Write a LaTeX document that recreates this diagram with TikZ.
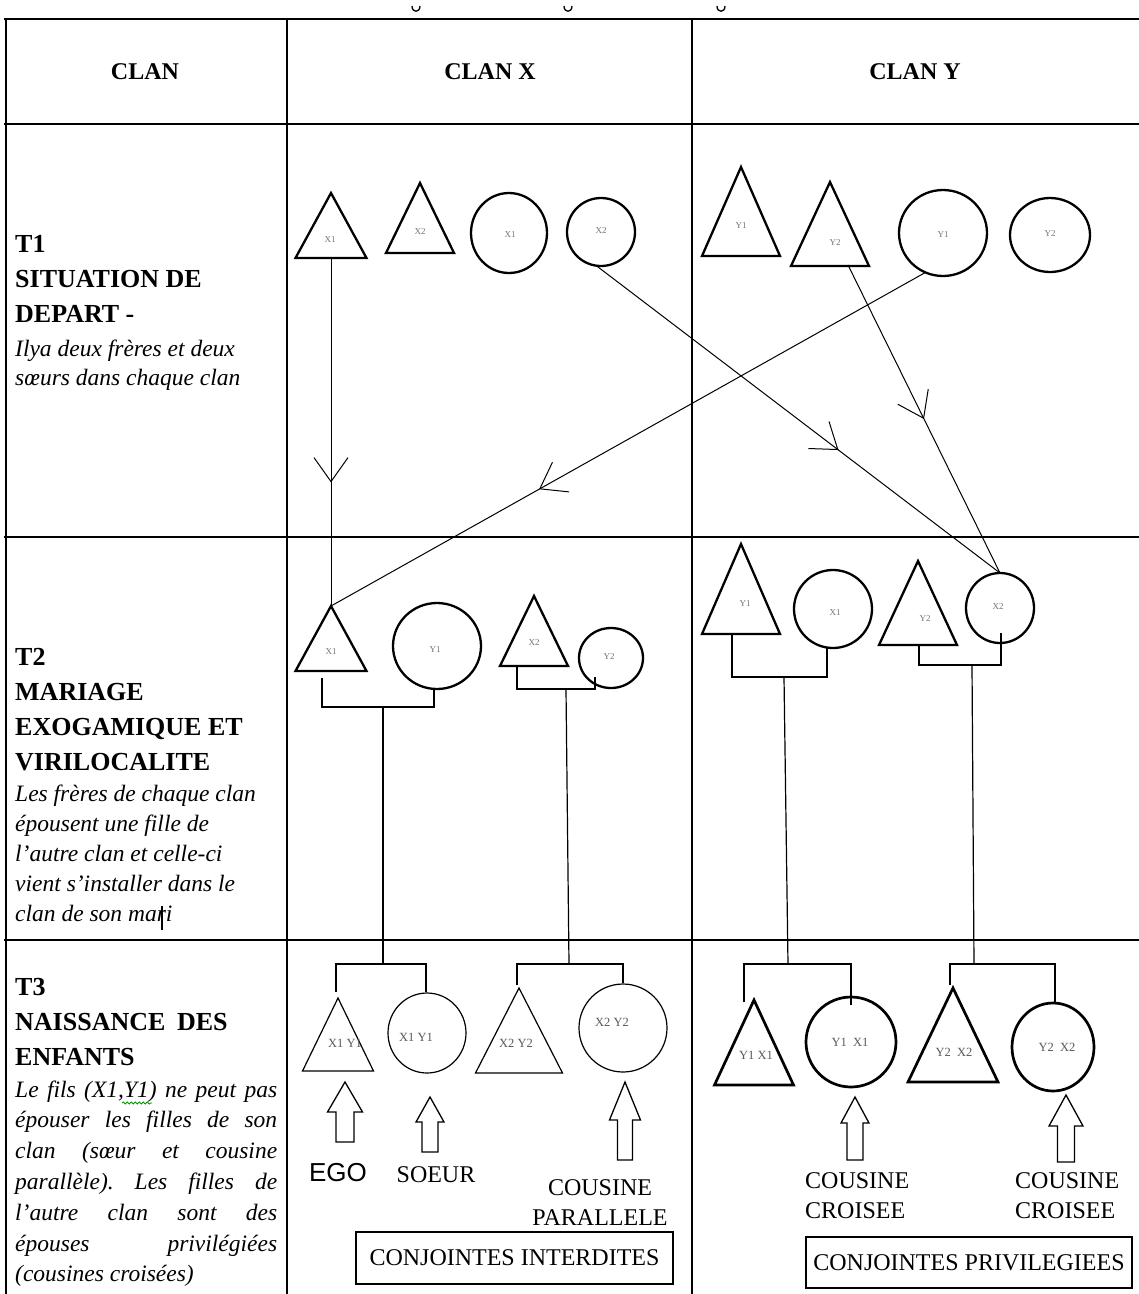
\documentclass[tikz,border=0pt]{standalone}
\usepackage{fontspec}
\setmainfont{Liberation Serif}
\newfontfamily\egofont{Liberation Sans}
\usetikzlibrary{shapes.geometric,arrows.meta,decorations.markings,decorations.pathmorphing}

\tikzset{
  tableline/.style={line width=1.5pt},
  heavy/.style={line width=2.3pt, line join=miter},
  heavier/.style={line width=2.7pt, line join=miter},
  light/.style={line width=1.2pt, line join=miter},
  ring/.style={draw, ellipse, inner sep=0pt, outer sep=0pt},
  smalltag/.style={font=\fontsize{9}{9}\selectfont, text=black!55, inner sep=0pt},
  bigtag/.style={font=\fontsize{12.5}{12.5}\selectfont, text=black!65, inner sep=0pt},
  kintag/.style={smalltag},
  kinline/.style={line width=1pt},
  marriage/.style={line width=1.2pt},
  blockarrow/.style={line width=1.3pt, line join=miter},
  midbarb/.style={postaction={decorate}, decoration={markings,
      mark=at position #1 with {\arrow{Straight Barb[length=24pt,width=34pt,line width=1pt]}}}},
  colhead/.style={font=\fontsize{24}{24}\selectfont\bfseries, inner sep=0pt},
  rowhead/.style={anchor=base west, inner sep=0pt, font=\fontsize{26}{26}\selectfont\bfseries},
  rownote/.style={anchor=base west, inner sep=0pt, font=\fontsize{23.5}{24}\selectfont\itshape},
  caption/.style={font=\fontsize{24}{30}\selectfont, inner sep=0pt},
  framed/.style={draw, line width=1.4pt},
}

% triangle (man): name, apex x, apex y, base y, half base, outline style, label x, label y, label
\newcommand\kintri[9]{%
  \draw[#6] (#2,#3) coordinate (#1-t) -- (#2+#5,#4) -- (#2-#5,#4) -- cycle;
  \coordinate (#1-b) at (#2,#4);
  \node[kintag] (#1) at (#7,#8) {#9};
}
% circle (woman): name, centre x, centre y, x radius, y radius, outline style, label x, label y, label
\newcommand\kinring[9]{%
  \node[ring, #6, minimum width=2*#4, minimum height=2*#5] (#1) at (#2,#3) {};
  \node[kintag] (#1-lab) at (#7,#8) {#9};
}
% hollow upward block arrow: tip x, tip y, head base y, bottom y, head half width, shaft half width
\newcommand\blockup[6]{%
  \draw[blockarrow] (#1,#2) -- (#1+#5,#3) -- (#1+#6,#3) -- (#1+#6,#4)
    -- (#1-#6,#4) -- (#1-#6,#3) -- (#1-#5,#3) -- cycle;
}
% justified line of the left column
\newcommand\justline[1]{\hbox to 262pt{\frenchspacing\spaceskip=.25em plus 1fil\relax #1}}

\begin{document}
\begin{tikzpicture}[x=1pt,y=-1pt]
\useasboundingbox (0,0) rectangle (1139,1294);
\fill[white] (0,0) rectangle (1139,1294);

% descenders of the title line above the table
\foreach \gx in {412,564,717}
  \draw[line width=1.3pt] (\gx,6) .. controls (\gx,13) and (\gx+8,13) .. (\gx+8,6);

% table rules
\draw[tableline] (4,19) -- (1139,19);
\draw[tableline] (4,124) -- (1139,124);
\draw[tableline] (4,537) -- (1139,537);
\draw[tableline] (4,940) -- (1139,940);
\draw[tableline] (6,19) -- (6,1294);
\draw[tableline] (287,19) -- (287,1294);
\draw[tableline] (692,19) -- (692,1294);

% column headings
\node[colhead] (h0) at (145,72) {CLAN};
\node[colhead] (h1) at (490,72) {CLAN X};
\node[colhead] (h2) at (915,72) {CLAN Y};

% row T1 description
\node[rowhead] (r1a) at (15,252) {T1};
\node[rowhead] (r1b) at (15,287) {SITUATION DE};
\node[rowhead] (r1c) at (15,322) {DEPART -};
\node[rownote] (r1d) at (15,356) {Ilya deux frères et deux};
\node[rownote] (r1e) at (15,385) {sœurs dans chaque clan};

% row T2 description
\node[rowhead] (r2a) at (15,665) {T2};
\node[rowhead] (r2b) at (15,700) {MARIAGE};
\node[rowhead] (r2c) at (15,735) {EXOGAMIQUE ET};
\node[rowhead] (r2d) at (15,770) {VIRILOCALITE};
\node[rownote] (r2e) at (15,801) {Les frères de chaque clan};
\node[rownote] (r2f) at (15,831) {épousent une fille de};
\node[rownote] (r2g) at (15,861) {l’autre clan et celle-ci};
\node[rownote] (r2h) at (15,891) {vient s’installer dans le};
\node[rownote] (r2i) at (15,921) {clan de son mari};
\draw[line width=2.6pt] (162,906) -- (162,930);

% row T3 description
\node[rowhead] (r3a) at (15,995) {T3};
\node[rowhead] (r3b) at (15,1030) {NAISSANCE\hspace{.45em}DES};
\node[rowhead] (r3c) at (15,1065) {ENFANTS};
\node[rownote] (r3d) at (15,1097) {\justline{Le fils (X1,Y1) ne peut pas}};
\node[rownote] (r3e) at (15,1127) {\justline{épouser les filles de son}};
\node[rownote] (r3f) at (15,1158) {\justline{clan (sœur et cousine}};
\node[rownote] (r3g) at (15,1189) {\justline{parallèle). Les filles de}};
\node[rownote] (r3h) at (15,1220) {\justline{l’autre clan sont des}};
\node[rownote] (r3i) at (15,1251) {\justline{épouses privilégiées}};
\node[rownote] (r3j) at (15,1281) {(cousines croisées)};
\draw[green!60!black, line width=0.8pt, decorate,
      decoration={snake, amplitude=1.1pt, segment length=4pt}] (122,1103) -- (152,1103);

% T1: the two brothers and two sisters of each clan
\kintri{a1}{331}{193}{258}{35.5}{heavy}{330}{240}{X1}
\kintri{a2}{420}{183}{253}{34}{heavy}{420}{232}{X2}
\kinring{a3}{509}{233}{38}{40}{heavy}{510}{235}{X1}
\kinring{a4}{601}{232}{34}{34}{heavy}{601}{231}{X2}
\kintri{a5}{741}{167}{256}{39}{heavy}{741}{226}{Y1}
\kintri{a6}{830}{182}{266}{39}{heavy}{835}{243}{Y2}
\kinring{a7}{943}{233}{44}{43}{heavy}{943}{235}{Y1}
\kinring{a8}{1050}{235}{40}{37}{heavy}{1050}{234}{Y2}

% T2: the couples after the exchange
\kintri{b1}{331}{606}{671}{35.5}{heavy}{331}{652}{X1}
\kinring{b2}{437}{646}{44}{43}{heavy}{435}{650}{Y1}
\kintri{b3}{534}{596}{666}{34}{heavy}{534}{643}{X2}
\kinring{b4}{611}{658}{32}{30}{heavy}{609}{657}{Y2}
\kintri{b5}{741}{544}{634}{39}{heavy}{745}{604}{Y1}
\kinring{b6}{833}{609}{39}{39}{heavy}{835}{613}{X1}
\kintri{b7}{918}{561}{645}{39}{heavy}{925}{619}{Y2}
\kinring{b8}{1000}{608}{34}{35}{heavy}{998}{607}{X2}

% movements from T1 to T2
\coordinate (a6-s) at (848,265);
\draw[kinline, midbarb=0.645] (a1-b) -- (b1-t);
\draw[kinline, midbarb=0.65] (a7.246) -- (b1-t);
\draw[kinline, midbarb=0.6] (a4.262) -- (b8.north);
\draw[kinline, midbarb=0.5] (a6-s) -- (b8.north);

% T3: the children
\begin{scope}[kintag/.style={bigtag}]
\kintri{c1}{338}{998}{1071}{35.5}{light}{345}{1043}{X1 Y1}
\kinring{c2}{427}{1033}{39}{40}{light}{416}{1037}{X1 Y1}
\kintri{c3}{519}{988}{1073}{43.5}{light}{516}{1043}{X2 Y2}
\kinring{c4}{623}{1028}{44}{44}{light}{612}{1022}{X2 Y2}
\kintri{c5}{754}{1000}{1085}{39.5}{heavier}{756}{1055}{Y1 X1}
\kinring{c6}{851}{1042}{45}{45}{heavier}{850}{1042}{Y1\ \ X1}
\kintri{c7}{953}{988}{1082}{45}{heavier}{954}{1052}{Y2\ \ X2}
\kinring{c8}{1053}{1047}{41}{44}{heavier}{1057}{1047}{Y2\ \ X2}
\end{scope}

% marriage brackets (T2) and sibling brackets (T3)
\coordinate (m1) at (383,707);
\coordinate (m2) at (566,689);
\coordinate (m3) at (784,677);
\coordinate (m4) at (972,665);
\coordinate (s1) at (383,964);
\coordinate (s2) at (569,964);
\coordinate (s3) at (788,964);
\coordinate (s4) at (974,964);
\draw[marriage] (322,678) |- (m1) -| (434,689);
\draw[marriage] (517,666) |- (m2) -| (595,677);
\draw[marriage] (732,634) |- (m3) -| (827,648);
\draw[marriage] (919,645) |- (m4) -| (1001,633);
\draw[marriage] (336,992) |- (s1) -| (426,992);
\draw[marriage] (517,985) |- (s2) -| (623,983);
\draw[marriage] (744,1002) |- (s3) -| (851,1005);
\draw[marriage] (950,985) |- (s4) -| (1055,1002);
\draw[marriage] (m1) -- (s1);
\draw[marriage] (m2) -- (s2);
\draw[marriage] (m3) -- (s3);
\draw[marriage] (m4) -- (s4);

% pointers to the children
\blockup{345}{1082}{1112}{1142}{17.5}{9}
\blockup{430}{1097}{1122}{1152}{14}{8}
\blockup{625}{1082}{1120}{1160}{15.5}{7.5}
\blockup{855}{1097}{1123}{1160}{14}{8}
\blockup{1066}{1095}{1126}{1162}{17}{8.5}

\node[caption, font=\egofont\fontsize{26}{26}\selectfont] (l1) at (338,1173) {EGO};
\node[caption] (l2) at (436,1175) {SOEUR};
\node[caption, align=center] (l3) at (600,1203) {COUSINE\\PARALLELE};
\node[caption, align=left, anchor=north west] (l4) at (805,1172) {COUSINE\\CROISEE};
\node[caption, align=left, anchor=north west] (l5) at (1015,1172) {COUSINE\\CROISEE};

\node[caption, framed, minimum width=317pt, minimum height=52pt] (k1) at (514.5,1258) {CONJOINTES INTERDITES};
\node[caption, framed, minimum width=326pt, minimum height=51pt] (k2) at (969,1262.5) {CONJOINTES PRIVILEGIEES};
\end{tikzpicture}
\end{document}
